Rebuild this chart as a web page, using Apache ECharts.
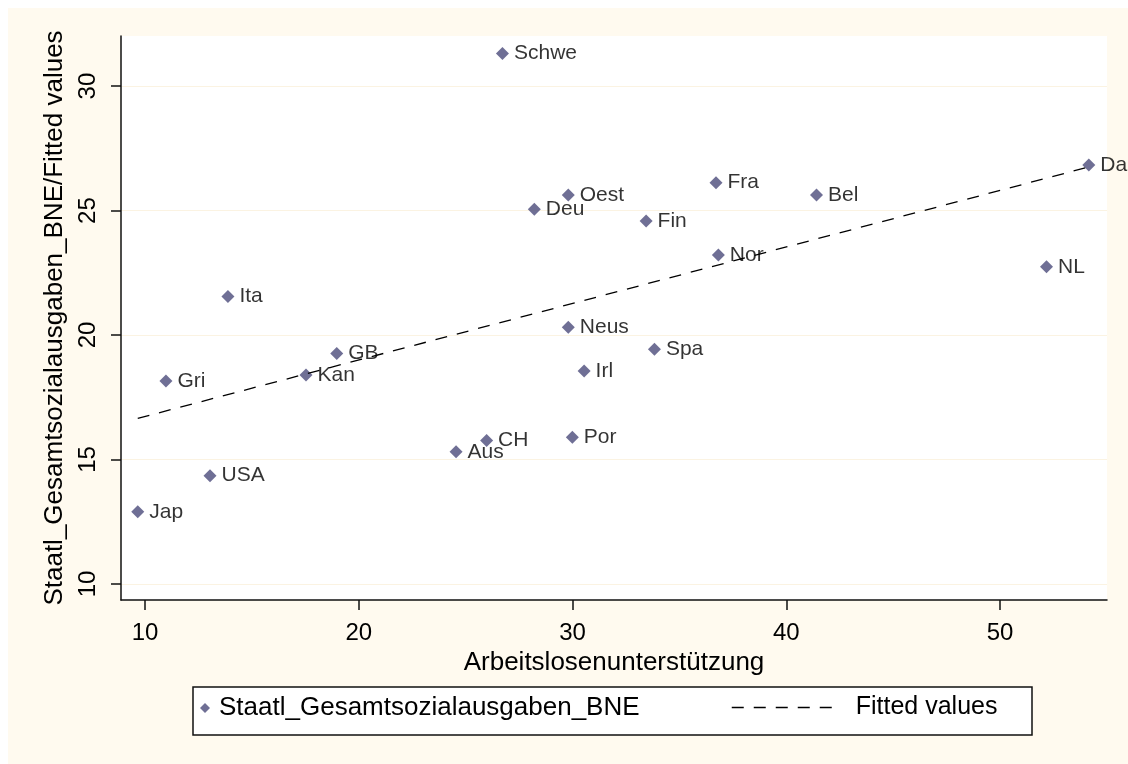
<!DOCTYPE html>
<html>
<head>
<meta charset="utf-8">
<script src="https://cdn.jsdelivr.net/npm/echarts@6/dist/echarts.min.js"></script>
<style>
html,body{margin:0;padding:0;background:#ffffff;width:1128px;height:764px;overflow:hidden;}
#chart{position:absolute;left:8px;top:8px;width:1120px;height:756px;}
</style>
</head>
<body>
<div id="chart"></div>
<script>
// ---- data ----
const countries = ['Schwe','Oest','Deu','Fin','Fra','Nor','Bel','Dae','NL','Neus','Spa','Irl','Por','CH','Aus','Ita','Gri','GB','Kan','USA','Jap'];
const unemploymentSupport = [26.72, 29.80, 28.21, 33.44, 36.71, 36.82, 41.41, 54.15, 52.17, 29.80, 33.83, 30.54, 29.99, 25.98, 24.55, 13.88, 10.98, 18.97, 17.53, 13.04, 9.66];
const socialSpending = [31.31, 25.62, 25.05, 24.58, 26.12, 23.21, 25.62, 26.83, 22.74, 20.31, 19.43, 18.55, 15.89, 15.76, 15.31, 21.55, 18.15, 19.26, 18.39, 14.35, 12.90];
const fittedX = [9.66, 54.15];
const fittedY = [16.65, 26.75];
const xTicks = [10, 20, 30, 40, 50];
const yTicks = [10, 15, 20, 25, 30];

const FONT = "'Liberation Sans', Arial, sans-serif";
const MARKER = '#4b4b7a';
const scatterData = countries.map((c, i) => [unemploymentSupport[i], socialSpending[i], c]);
const fittedData = fittedX.map((x, i) => [x, fittedY[i]]);

const chart = echarts.init(document.getElementById('chart'), null, {renderer: 'canvas'});
chart.setOption({
  backgroundColor: '#fffaef',
  animation: false,
  textStyle: {fontFamily: FONT, color: '#000'},
  grid: {left: 113, top: 28, width: 986, height: 564, show: true, backgroundColor: '#ffffff', borderWidth: 0},
  xAxis: {
    type: 'value', min: 8.877, max: 55.0,
    name: 'Arbeitslosenunterstützung', nameLocation: 'middle', nameGap: 43,
    nameTextStyle: {fontSize: 26, color: '#000', fontFamily: FONT},
    axisLine: {show: true, onZero: false, lineStyle: {color: '#111', width: 1.5}},
    axisTick: {show: true, length: 10, customValues: xTicks, lineStyle: {color: '#111', width: 1.5}},
    axisLabel: {customValues: xTicks, margin: 21, fontSize: 24, color: '#000', fontFamily: FONT},
    splitLine: {show: false}
  },
  yAxis: {
    type: 'value', min: 9.357, max: 32.01,
    name: 'Staatl_Gesamtsozialausgaben_BNE/Fitted values', nameLocation: 'middle', nameGap: 53,
    nameTextStyle: {fontSize: 26, color: '#000', fontFamily: FONT},
    axisLine: {show: true, onZero: false, lineStyle: {color: '#111', width: 1.5}},
    axisTick: {show: true, length: 10, customValues: yTicks, lineStyle: {color: '#111', width: 1.5}},
    axisLabel: {customValues: yTicks, rotate: 90, margin: 21, fontSize: 24, color: '#000', fontFamily: FONT},
    splitLine: {show: true, lineStyle: {color: '#fbf3e2', width: 1}}
  },
  graphic: [{
    type: 'rect', z: 0,
    shape: {x: 185, y: 679, width: 839, height: 48},
    style: {fill: '#ffffff', stroke: '#111', lineWidth: 1.5}
  }],
  legend: [{
    data: ['Staatl_Gesamtsozialausgaben_BNE'],
    left: 192, top: 687, padding: 0, z: 10,
    itemWidth: 10, itemHeight: 10, icon: 'diamond',
    itemStyle: {color: MARKER},
    textStyle: {fontSize: 26, color: '#000', fontFamily: FONT, padding: [0, 0, 0, 4]}
  }, {
    data: ['Fitted values'],
    left: 723, top: 687, padding: 0, z: 10,
    itemWidth: 106, itemHeight: 14,
    itemStyle: {color: 'transparent', borderWidth: 0, opacity: 0},
    lineStyle: {color: '#000', width: 1.5, type: [12, 10]},
    textStyle: {fontSize: 25, color: '#000', fontFamily: FONT, padding: [0, 0, 0, 13]}
  }],
  series: [{
    name: 'Staatl_Gesamtsozialausgaben_BNE',
    type: 'scatter',
    data: scatterData,
    symbol: 'diamond', symbolSize: 13,
    itemStyle: {color: MARKER},
    label: {
      show: true, position: 'right', distance: 5,
      formatter: p => p.data[2],
      fontSize: 21, color: '#000', fontFamily: FONT
    },
    z: 3
  }, {
    name: 'Fitted values',
    type: 'line',
    data: fittedData,
    symbol: 'none', showSymbol: false,
    lineStyle: {color: '#000', width: 1.3, type: [12, 10]},
    itemStyle: {color: '#000'},
    z: 4
  }]
});
</script>
</body>
</html>
